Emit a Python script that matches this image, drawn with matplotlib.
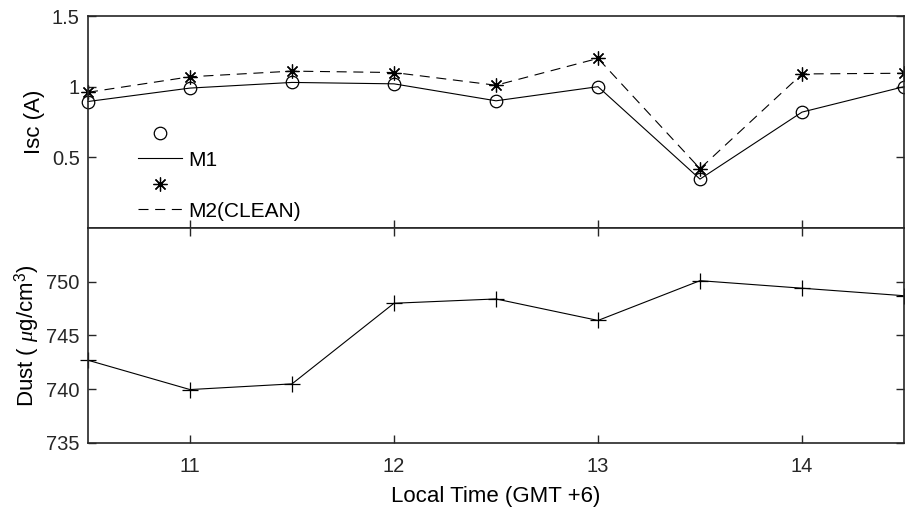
import matplotlib
matplotlib.use("Agg")
from matplotlib import pyplot as plt
from matplotlib.lines import Line2D

plt.rcParams["font.family"] = ["Liberation Sans", "DejaVu Sans"]
plt.rcParams["mathtext.fontset"] = "custom"
plt.rcParams["mathtext.it"] = "Liberation Serif:italic"
plt.rcParams["mathtext.rm"] = "Liberation Sans"

# local time (GMT +6)
hours = [10.5, 11, 11.5, 12, 12.5, 13, 13.5, 14, 14.5]
# short circuit current (A)
isc_m1 = [0.895, 0.99, 1.03, 1.02, 0.90, 1.00, 0.346, 0.82, 1.00]
isc_m2 = [0.96, 1.07, 1.11, 1.10, 1.01, 1.20, 0.42, 1.09, 1.095]
# dust concentration
dust = [742.7, 739.97, 740.5, 748.0, 748.4, 746.4, 750.1, 749.4, 748.7]

x_ticks = [11, 12, 13, 14]
isc_ticks = [0.5, 1, 1.5]
dust_ticks = [735, 740, 745, 750]

frame = "#262626"
asterisk = (8, 2, 0)

fig = plt.figure(figsize=(9.05, 5.09), dpi=100)
ax1 = fig.add_axes([88 / 905, 1 - 228 / 509, 816 / 905, 212 / 509])
ax2 = fig.add_axes([88 / 905, 1 - 443 / 509, 816 / 905, 215 / 509])

ax1.plot(hours, isc_m1, color="black", lw=0.8, marker="o", ms=9,
         mfc="none", mew=0.9, clip_on=False)
ax1.plot(hours, isc_m2, color="black", lw=0.8, ls=(0, (9, 6)),
         marker=asterisk, ms=10, mew=0.9, clip_on=False)
ax1.set_xlim(10.5, 14.5)
ax1.set_ylim(0, 1.5)
ax1.set_yticks(isc_ticks)
ax1.set_yticklabels(["0.5", "1", "1.5"])
ax1.set_xticks(x_ticks)
ax1.tick_params(axis="x", labelbottom=False)
ax1.set_ylabel("Isc (A)", fontsize=16, labelpad=5)

handles = [
    Line2D([], [], ls="none", marker="o", ms=9, mfc="none", mec="black", mew=0.9),
    Line2D([], [], color="black", lw=0.8),
    Line2D([], [], ls="none", marker=asterisk, ms=10, mec="black", mew=0.9),
    Line2D([], [], color="black", lw=0.8, ls=(0, (9, 6))),
]
ax1.legend(handles, ["", "M1", "", "M2(CLEAN)"], loc="lower left",
           bbox_to_anchor=(0.038, -0.054), frameon=False, fontsize=15,
           handlelength=2.1, handletextpad=0.3, labelspacing=0.31)

ax2.plot(hours, dust, color="black", lw=0.8, marker="+", ms=11, mew=0.9,
         clip_on=False)
ax2.set_xlim(10.5, 14.5)
ax2.set_ylim(735, 755)
ax2.set_yticks(dust_ticks)
ax2.set_xticks(x_ticks)
ax2.set_ylabel(r"Dust ( $\mu$g/cm$^3$)", fontsize=16, labelpad=3)
ax2.set_xlabel("Local Time (GMT +6)", fontsize=16, labelpad=7)

for ax in (ax1, ax2):
    for s in ax.spines.values():
        s.set_color(frame)
        s.set_linewidth(1.2)
    ax.tick_params(direction="in", length=6, width=1.0, color=frame,
                   labelsize=14.5, labelcolor="#262626", right=True, pad=6)
ax2.tick_params(axis="x", top=True, pad=10)
ax1.tick_params(axis="x", top=False)

fig.savefig("out.png", dpi=100)
